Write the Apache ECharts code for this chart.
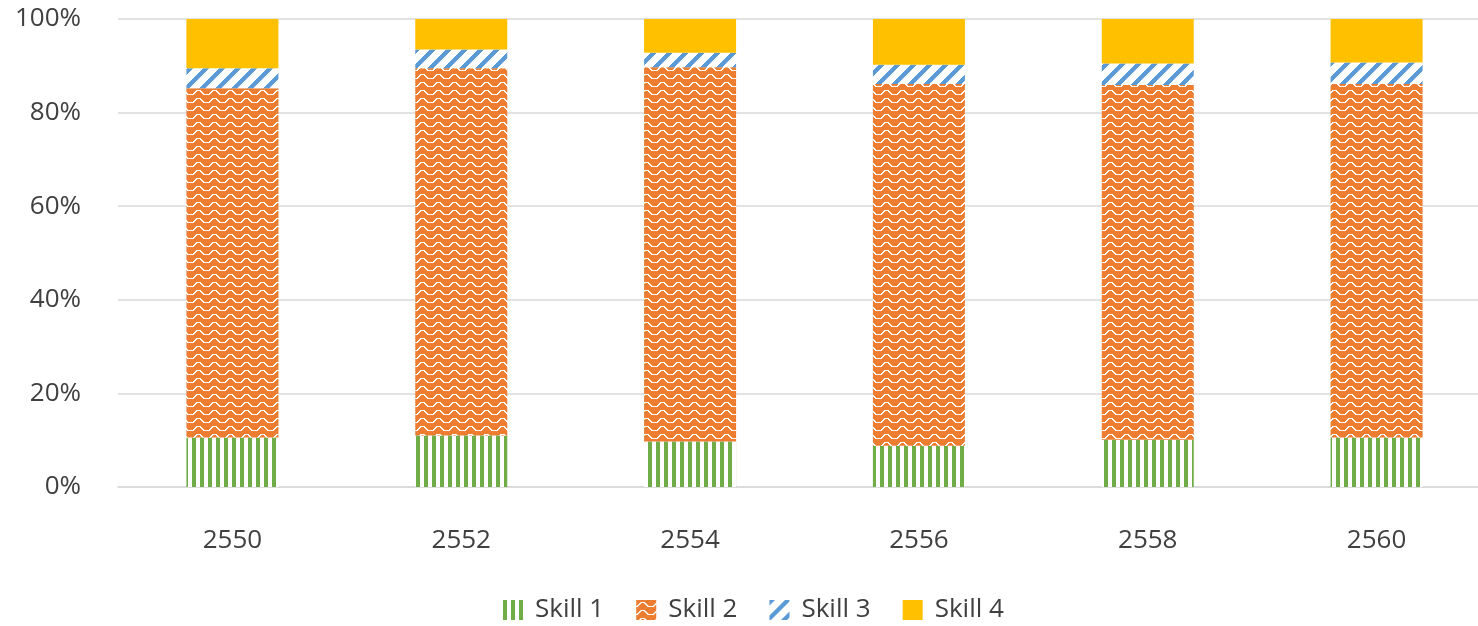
<!DOCTYPE html>
<html>
<head>
<meta charset="utf-8">
<script src="https://cdn.jsdelivr.net/npm/echarts@6/dist/echarts.min.js"></script>
<style>
html,body{margin:0;padding:0;background:#fff;overflow:hidden;width:1478px;height:626px;}
#chart{width:1491px;height:626px;}
</style>
</head>
<body>
<div id="chart"></div>
<script>
const categories = ['2550', '2552', '2554', '2556', '2558', '2560'];
const skill1 = [10.6, 11.0, 9.7, 8.8, 10.1, 10.6];
const skill2 = [74.6, 78.5, 80.0, 77.3, 75.8, 75.5];
const skill3 = [4.3, 4.0, 3.1, 4.1, 4.6, 4.6];
const skill4 = [10.5, 6.5, 7.2, 9.8, 9.5, 9.3];
const seriesNames = ['Skill 1', 'Skill 2', 'Skill 3', 'Skill 4'];
const yTicks = [0, 20, 40, 60, 80, 100];

function makeCanvas(w, h) {
  const c = document.createElement('canvas');
  c.width = w; c.height = h;
  return c;
}
// vertical stripes (green)
function stripePattern() {
  const c = makeCanvas(8, 8);
  const g = c.getContext('2d');
  g.fillStyle = '#ffffff'; g.fillRect(0, 0, 8, 8);
  g.fillStyle = '#70AD47'; g.fillRect(0, 0, 4, 8);
  return { image: c, repeat: 'repeat' };
}
// wave (orange with white wave)
function wavePattern() {
  const c = makeCanvas(16, 8);
  const g = c.getContext('2d');
  g.fillStyle = '#ED7D31'; g.fillRect(0, 0, 16, 8);
  g.fillStyle = '#ffffff';
  const h = [6, 5, 4, 3, 2, 2, 2, 2, 3, 4, 5, 6, 6, 6, 6, 6];
  for (let x = 0; x < 16; x++) {
    const prev = h[(x + 15) % 16];
    const top = Math.min(prev, h[x]);
    const bot = Math.max(prev, h[x]);
    g.fillRect(x, top, 1, bot - top + 1);
  }
  return { image: c, repeat: 'repeat' };
}
// wide upward diagonal (blue)
function diagPattern() {
  const c = makeCanvas(16, 16);
  const g = c.getContext('2d');
  g.fillStyle = '#ffffff'; g.fillRect(0, 0, 16, 16);
  g.fillStyle = '#5B9BD5';
  for (let y = 0; y < 16; y++) {
    const xs = ((15 - y) % 16 + 16) % 16;
    for (let k = 0; k < 6; k++) {
      g.fillRect((xs + k) % 16, y, 1, 1);
    }
  }
  return { image: c, repeat: 'repeat' };
}

const fills = [stripePattern(), wavePattern(), diagPattern(), '#FFC000'];
const values = [skill1, skill2, skill3, skill4];
const FONT = '"Open Sans", "Noto Sans", sans-serif';

const chart = echarts.init(document.getElementById('chart'), null, { renderer: 'canvas', devicePixelRatio: 1 });
chart.setOption({
  animation: false,
  backgroundColor: '#ffffff',
  grid: { left: 118, top: 19, right: 0, height: 468, containLabel: false },
  legend: {
    top: 597,
    left: 503,
    padding: 0,
    itemWidth: 20,
    itemHeight: 20,
    itemGap: 32,
    icon: 'rect',
    data: seriesNames,
    textStyle: { fontFamily: FONT, fontSize: 26, color: '#404040', padding: [0, 0, 0, 7] }
  },
  xAxis: {
    type: 'category',
    data: categories,
    axisLine: { lineStyle: { color: '#D9D9D9', width: 1.5 } },
    axisTick: { show: false },
    axisLabel: { fontFamily: FONT, fontSize: 26, color: '#404040', margin: 41 }
  },
  yAxis: {
    type: 'value',
    min: yTicks[0],
    max: yTicks[yTicks.length - 1],
    interval: 20,
    axisLine: { show: false },
    axisTick: { show: false },
    splitLine: { lineStyle: { color: '#D9D9D9', width: 1.5 } },
    axisLabel: { fontFamily: FONT, fontSize: 26, color: '#404040', margin: 37, formatter: '{value}%' }
  },
  series: seriesNames.map((name, i) => ({
    name: name,
    type: 'bar',
    stack: 'total',
    barWidth: 92,
    data: values[i],
    itemStyle: { color: fills[i] },
    emphasis: { disabled: true }
  }))
});
</script>
</body>
</html>
